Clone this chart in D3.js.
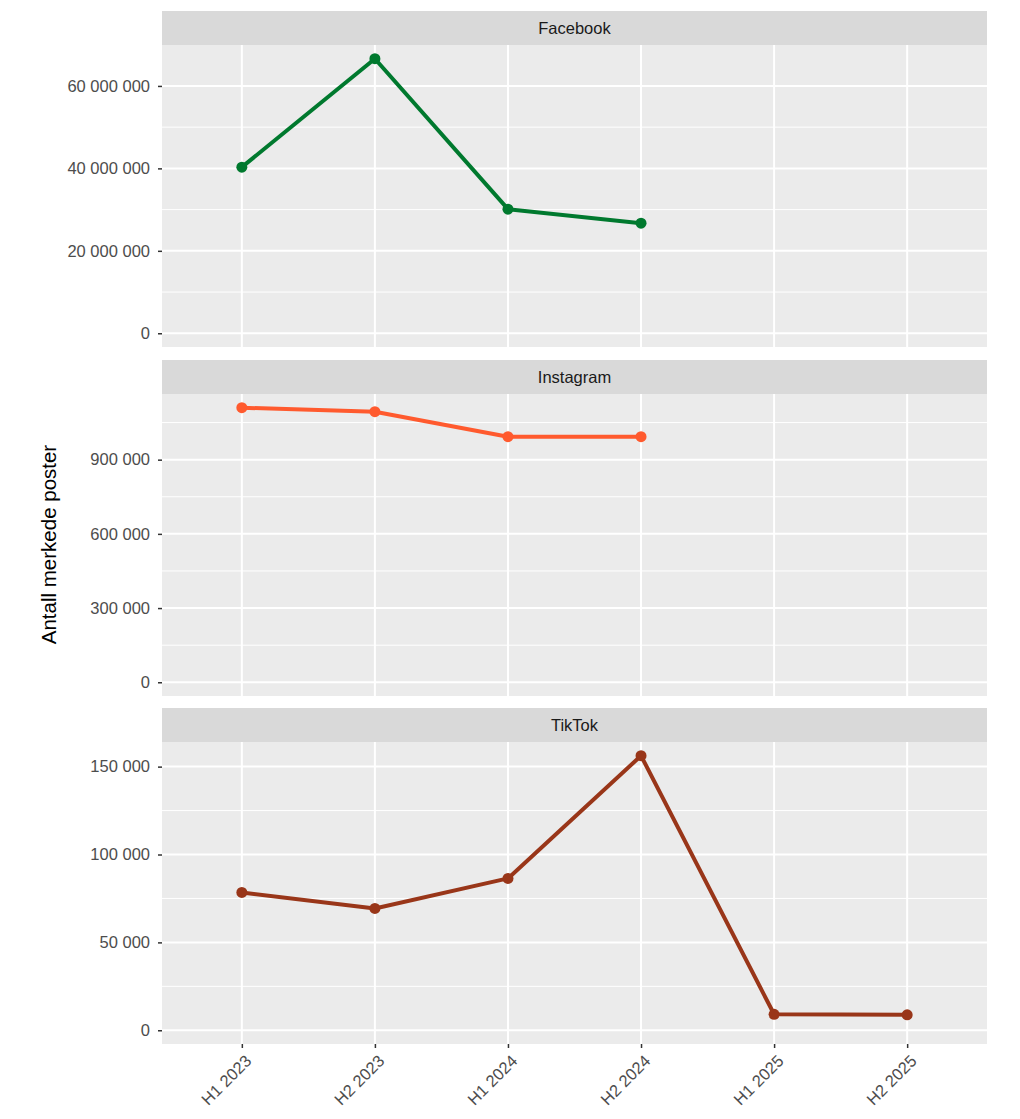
<!DOCTYPE html>
<html>
<head>
<meta charset="utf-8">
<script src="https://cdn.jsdelivr.net/npm/d3@7"></script>
<style>
  body { margin: 0; background: #fff; }
  svg { display: block; font-family: "Liberation Sans", Arial, sans-serif; }
</style>
</head>
<body>
<svg id="chart"></svg>
<script>
const width = 1020;
const height = 1119;

// data
const periods = ["H1 2023", "H2 2023", "H1 2024", "H2 2024", "H1 2025", "H2 2025"];
const platforms = ["Facebook", "Instagram", "TikTok"];
const facebook = [40300000, 66600000, 30100000, 26700000];
const instagram = [1110000, 1094000, 993000, 993000];
const tiktok = [78400, 69300, 86400, 156200, 9100, 8800];
const colors = ["#00792E", "#FF5A2E", "#993619"];
const tickSteps = [20000000, 300000, 50000];

const series = [facebook, instagram, tiktok];

const left = 162, right = 987;
const panelTops = [11, 360, 708];
const stripH = 34;
const panelH = 302;
const fontSize = "16.5px";

const svg = d3.select("#chart")
    .attr("width", width)
    .attr("height", height);

const locale = d3.formatLocale({ decimal: ",", thousands: "\u00a0", grouping: [3], currency: ["", " kr"] });
const fmt = locale.format(",d");

const x = d3.scalePoint()
    .domain(periods)
    .range([left, right])
    .padding(0.6);

platforms.forEach((name, i) => {
    const vals = series[i];
    const top = panelTops[i];
    const pTop = top + stripH;
    const pBot = pTop + panelH;

    const maxV = d3.max(vals);
    const pad = maxV * 0.05;
    const y = d3.scaleLinear()
        .domain([-pad, maxV + pad])
        .range([pBot, pTop]);

    const step = tickSteps[i];
    const majors = d3.range(0, maxV + pad, step);
    const minors = d3.range(step / 2, maxV + pad, step);

    const g = svg.append("g");

    // strip
    g.append("rect")
        .attr("x", left).attr("y", top)
        .attr("width", right - left).attr("height", stripH)
        .attr("fill", "#D9D9D9");
    g.append("text")
        .attr("x", (left + right) / 2)
        .attr("y", top + stripH / 2 + 5.5)
        .attr("text-anchor", "middle")
        .attr("font-size", fontSize)
        .attr("fill", "#1A1A1A")
        .text(name);

    // panel
    g.append("rect")
        .attr("x", left).attr("y", pTop)
        .attr("width", right - left).attr("height", panelH)
        .attr("fill", "#EBEBEB");

    g.selectAll("line.minor")
        .data(minors)
        .join("line")
        .attr("class", "minor")
        .attr("x1", left).attr("x2", right)
        .attr("y1", d => y(d)).attr("y2", d => y(d))
        .attr("stroke", "#fff").attr("stroke-width", 1);

    g.selectAll("line.major")
        .data(majors)
        .join("line")
        .attr("class", "major")
        .attr("x1", left).attr("x2", right)
        .attr("y1", d => y(d)).attr("y2", d => y(d))
        .attr("stroke", "#fff").attr("stroke-width", 2);

    g.selectAll("line.vgrid")
        .data(periods)
        .join("line")
        .attr("class", "vgrid")
        .attr("x1", d => x(d)).attr("x2", d => x(d))
        .attr("y1", pTop).attr("y2", pBot)
        .attr("stroke", "#fff").attr("stroke-width", 2);

    // y axis
    const yAxis = d3.axisLeft(y)
        .tickValues(majors)
        .tickSize(4)
        .tickPadding(8)
        .tickFormat(fmt);
    const ya = g.append("g")
        .attr("transform", `translate(${left},0)`)
        .call(yAxis);
    ya.select(".domain").remove();
    ya.selectAll(".tick line").attr("stroke", "#333").attr("stroke-width", 1.5);
    ya.selectAll(".tick text")
        .attr("font-size", fontSize)
        .attr("fill", "#4D4D4D")
        .attr("font-family", "Liberation Sans, Arial, sans-serif");

    // line + points
    const pts = vals.map((v, j) => ({ p: periods[j], v: v }));
    g.append("path")
        .datum(pts)
        .attr("fill", "none")
        .attr("stroke", colors[i])
        .attr("stroke-width", 4)
        .attr("stroke-linejoin", "round")
        .attr("d", d3.line().x(d => x(d.p)).y(d => y(d.v)));

    g.selectAll("circle")
        .data(pts)
        .join("circle")
        .attr("cx", d => x(d.p))
        .attr("cy", d => y(d.v))
        .attr("r", 5.5)
        .attr("fill", colors[i]);

    // x axis on bottom panel
    if (i === platforms.length - 1) {
        const xa = g.append("g")
            .attr("transform", `translate(0,${pBot})`)
            .call(d3.axisBottom(x).tickSize(4).tickPadding(3));
        xa.select(".domain").remove();
        xa.selectAll(".tick line").attr("stroke", "#333").attr("stroke-width", 1.5);
        xa.selectAll(".tick text")
            .attr("font-size", fontSize)
            .attr("fill", "#4D4D4D")
            .attr("font-family", "Liberation Sans, Arial, sans-serif")
            .attr("text-anchor", "end")
            .attr("dy", "0.35em")
            .attr("transform", "translate(1,9) rotate(-45)");
    }
});

// y title
svg.append("text")
    .attr("transform", `translate(56,${(panelTops[0] + stripH + panelTops[2] + stripH + panelH) / 2}) rotate(-90)`)
    .attr("text-anchor", "middle")
    .attr("font-size", "20.5px")
    .attr("fill", "#000")
    .text("Antall merkede poster");
</script>
</body>
</html>
